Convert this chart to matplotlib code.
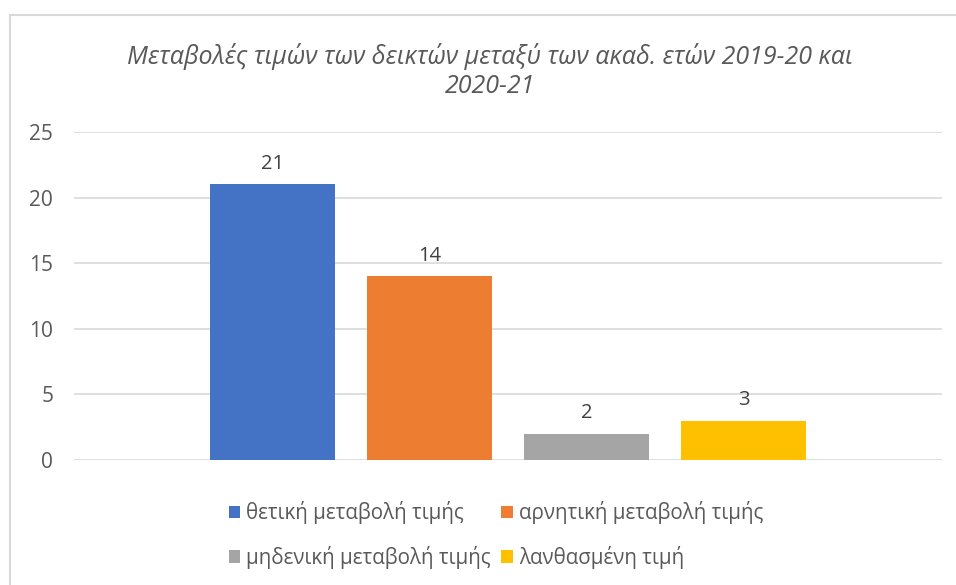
import matplotlib.pyplot as plt
from matplotlib.patches import Rectangle

# Δεδομένα
categories = ['θετική μεταβολή τιμής', 'αρνητική μεταβολή τιμής',
              'μηδενική μεταβολή τιμής', 'λανθασμένη τιμή']
values = [21, 14, 2, 3]
colors = ['#4472C4', '#ED7D31', '#A5A5A5', '#FFC000']
yticks = [0, 5, 10, 15, 20, 25]
title = 'Μεταβολές τιμών των δεικτών μεταξύ των ακαδ. ετών 2019-20 και\n2020-21'

plt.rcParams['font.family'] = ['Open Sans', 'DejaVu Sans']
txt = '#595959'

W, H = 956, 585
fig = plt.figure(figsize=(W / 100, H / 100), dpi=100)

# περίγραμμα γραφήματος
fig.patches.append(Rectangle((10 / W, -0.01), 1.2, 1 - 15 / H + 0.01,
                             transform=fig.transFigure, fill=False,
                             edgecolor='#d9d9d9', lw=1.5))

left, right, bottom, top = 74, 942, 460, 132
ax = fig.add_axes([left / W, 1 - bottom / H, (right - left) / W, (bottom - top) / H])

x = list(range(len(values)))
bars = ax.bar(x, values, width=0.796, color=colors, label=categories, zorder=3)
for xi, v in zip(x, values):
    ax.text(xi, v + 0.8, str(v), ha='center', va='bottom', fontsize=14.5, color='#404040')

ax.set_xlim(-1.264, 4.265)
ax.set_ylim(0, 25)
ax.set_yticks(yticks)
ax.set_xticks([])
ax.grid(axis='y', color='#d9d9d9', lw=1.2, zorder=0)
for s in ax.spines.values():
    s.set_visible(False)
ax.tick_params(axis='y', length=0, labelsize=15, labelcolor=txt, pad=15)

fig.text(490 / W, 1 - 71 / H, title, ha='center', va='center', fontsize=18,
         style='italic', color=txt, linespacing=1.25)

# σειρά γραμμή-γραμμή όπως στο Excel
order = [0, 2, 1, 3]
fig.legend(handles=[bars[i] for i in order], labels=[categories[i] for i in order],
           ncol=2, loc='center', bbox_to_anchor=(496 / W, 1 - 535 / H), frameon=False,
           fontsize=14.8, labelcolor=txt, handlelength=0.55, handleheight=0.55,
           handletextpad=0.3, columnspacing=0.5, labelspacing=1.05)

fig.savefig('out.png', dpi=100)
